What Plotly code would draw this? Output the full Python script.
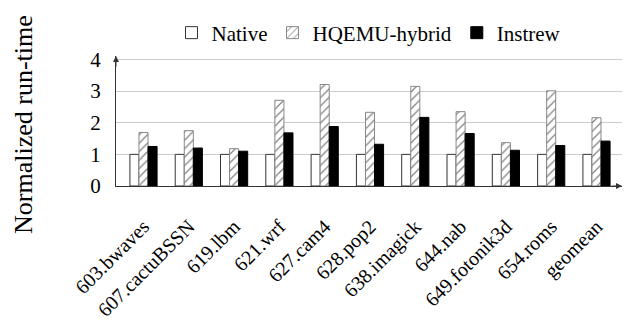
import plotly.graph_objects as go

categories = ["603.bwaves", "607.cactuBSSN", "619.lbm", "621.wrf", "627.cam4",
              "628.pop2", "638.imagick", "644.nab", "649.fotonik3d", "654.roms", "geomean"]
native = [1, 1, 1, 1, 1, 1, 1, 1, 1, 1, 1]
hqemu = [1.69, 1.75, 1.18, 2.71, 3.21, 2.33, 3.15, 2.35, 1.37, 3.01, 2.16]
instrew = [1.25, 1.20, 1.10, 1.68, 1.88, 1.32, 2.17, 1.66, 1.13, 1.28, 1.42]
yticks = [0, 1, 2, 3, 4]

FONT = "Liberation Serif"
L, R, T, B = 116, 7, 56, 136
PW, PH = 629 - L - R, 322 - T - B

fig = go.Figure()
fig.add_trace(go.Bar(x=categories, y=native, name="Native",
                     marker=dict(color="white", line=dict(color="#333333", width=1))))
fig.add_trace(go.Bar(x=categories, y=hqemu, name="HQEMU-hybrid",
                     marker=dict(color="white", line=dict(color="#888888", width=1),
                                 pattern=dict(shape="/", fgcolor="black", bgcolor="white",
                                              size=6, solidity=0.2))))
fig.add_trace(go.Bar(x=categories, y=instrew, name="Instrew",
                     marker=dict(color="black", line=dict(color="black", width=1))))

fig.update_layout(
    width=629, height=322,
    margin=dict(l=L, r=R, t=T, b=B, autoexpand=False),
    paper_bgcolor="white", plot_bgcolor="white",
    barmode="group", bargap=0.4, bargroupgap=0,
    font=dict(family=FONT, color="black"),
    showlegend=True,
    legend=dict(orientation="h", x=0.5, xanchor="center", y=1 + (T - 33) / PH, yanchor="middle",
                font=dict(size=21, family=FONT), bgcolor="rgba(0,0,0,0)",
                itemwidth=30, tracegroupgap=0),
    xaxis=dict(range=[-0.607, 10.563], showline=True, linecolor="#333333", linewidth=1,
               showgrid=False, tickangle=-45, tickfont=dict(size=20, family=FONT),
               ticks="", zeroline=False, ticklabelstandoff=20, automargin=False),
    yaxis=dict(range=[0, 4.11], tickvals=yticks, showline=True, linecolor="#333333",
               linewidth=1, showgrid=True, gridcolor="#cccccc", gridwidth=1,
               tickfont=dict(size=21, family=FONT), ticks="", ticklabelstandoff=10,
               zeroline=False, automargin=False),
)

# axis arrowheads
fig.add_annotation(x=0, y=1, xref="paper", yref="paper", text="", showarrow=True,
                   ax=0, ay=12, arrowhead=2, arrowsize=1.2, arrowwidth=1, arrowcolor="#333333")
fig.add_annotation(x=1, y=0, xref="paper", yref="paper", text="", showarrow=True,
                   ax=-12, ay=0, arrowhead=2, arrowsize=1.2, arrowwidth=1, arrowcolor="#333333")

# y axis title
fig.add_annotation(x=(23 - L) / PW, y=(322 - B - 125) / PH, xref="paper", yref="paper",
                   text="Normalized run-time", showarrow=False, textangle=-90,
                   font=dict(size=26, family=FONT), xanchor="center", yanchor="middle")

fig.write_html("out.html")
